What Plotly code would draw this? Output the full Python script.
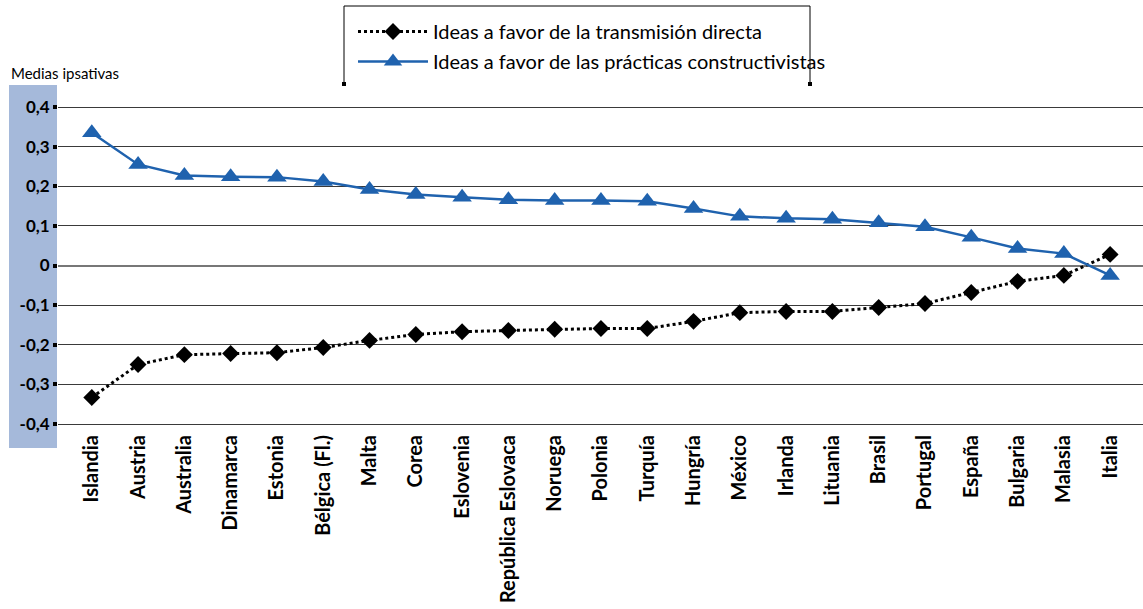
import plotly.graph_objects as go

countries = ["Islandia", "Austria", "Australia", "Dinamarca", "Estonia", "Bélgica (Fl.)",
             "Malta", "Corea", "Eslovenia", "República Eslovaca", "Noruega", "Polonia",
             "Turquía", "Hungría", "México", "Irlanda", "Lituania", "Brasil", "Portugal",
             "España", "Bulgaria", "Malasia", "Italia"]

transmision = [-0.333, -0.250, -0.225, -0.222, -0.220, -0.207, -0.189, -0.174, -0.167,
               -0.164, -0.161, -0.159, -0.159, -0.141, -0.119, -0.116, -0.116, -0.106,
               -0.096, -0.068, -0.040, -0.025, 0.028]

constructivistas = [0.335, 0.255, 0.227, 0.224, 0.223, 0.212, 0.192, 0.179, 0.172,
                    0.166, 0.164, 0.164, 0.162, 0.144, 0.124, 0.119, 0.117, 0.108,
                    0.098, 0.071, 0.043, 0.030, -0.025]

series_names = ["Ideas a favor de la transmisión directa",
                "Ideas a favor de las prácticas constructivistas"]

y_ticks = [0.4, 0.3, 0.2, 0.1, 0, -0.1, -0.2, -0.3, -0.4]
y_ticktext = ["0,4", "0,3", "0,2", "0,1", "0", "-0,1", "-0,2", "-0,3", "-0,4"]

BLUE = "#1f62ae"
FONT = "Lato"

W, H = 1143, 609
L, R, T, B = 58, 1143, 100, 430

def px(xp):
    return (xp - L) / (R - L)

def py(yp):
    return (B - yp) / (B - T)

fig = go.Figure()
fig.add_trace(go.Scatter(
    x=countries, y=transmision, name=series_names[0], mode="lines+markers",
    legendgroup="a",
    line=dict(color="black", width=3, dash="dot"),
    marker=dict(symbol="diamond", size=13, color="black"),
))
fig.add_trace(go.Scatter(
    x=countries, y=constructivistas, name=series_names[1], mode="lines+markers",
    legendgroup="b",
    line=dict(color=BLUE, width=2.5),
    marker=dict(symbol="triangle-up", size=17, color=BLUE),
))

shapes = []
shapes.append(dict(type="rect", xref="paper", yref="paper",
                   x0=px(9), x1=px(57), y0=py(448), y1=py(85),
                   fillcolor="#a5b9da", line=dict(width=0), layer="below"))
shapes.append(dict(type="line", xref="paper", yref="paper",
                   x0=px(344), x1=px(810), y0=py(6), y1=py(6),
                   line=dict(color="black", width=1)))
shapes.append(dict(type="line", xref="paper", yref="paper",
                   x0=px(344), x1=px(344), y0=py(6), y1=py(84),
                   line=dict(color="black", width=1)))
shapes.append(dict(type="line", xref="paper", yref="paper",
                   x0=px(810), x1=px(810), y0=py(6), y1=py(84),
                   line=dict(color="black", width=1)))
for cx in (344, 810):
    shapes.append(dict(type="rect", xref="paper", yref="paper",
                       x0=px(cx - 2), x1=px(cx + 2), y0=py(86), y1=py(82),
                       fillcolor="black", line=dict(width=0)))

fig.update_layout(
    width=W, height=H,
    margin=dict(l=L, r=W - R, t=T, b=H - B),
    paper_bgcolor="white", plot_bgcolor="white",
    font=dict(family=FONT, color="black"),
    shapes=shapes,
    showlegend=True,
    legend=dict(x=px(353), y=py(12), xanchor="left", yanchor="top",
                font=dict(family=FONT, size=20, color="black"),
                bgcolor="rgba(0,0,0,0)", borderwidth=0,
                tracegroupgap=1, itemwidth=70),
    annotations=[dict(text="Medias ipsativas", xref="paper", yref="paper",
                      x=px(9), y=py(73), xanchor="left", yanchor="middle",
                      showarrow=False, font=dict(family=FONT, size=15, color="black"))],
    xaxis=dict(type="category", range=[-0.73, 22.71], showgrid=False, zeroline=False,
               showline=False, ticks="", tickangle=-90,
               tickfont=dict(family=FONT, size=20, color="black", weight="bold")),
    yaxis=dict(range=[-0.4 - 6 / 396.5, 0.4 + 7 / 396.5], tickvals=y_ticks,
               ticktext=y_ticktext, showgrid=True, gridcolor="#3a3a3a", gridwidth=1,
               zeroline=True, zerolinecolor="#777777", zerolinewidth=2,
               ticks="outside", ticklen=4, tickwidth=4, tickcolor="black",
               showline=False,
               tickfont=dict(family=FONT, size=17, color="black", weight="bold")),
)

fig.write_html("out.html",
               config={"displayModeBar": False},
               post_script="document.body.style.margin='0px';document.body.style.overflow='hidden';")
